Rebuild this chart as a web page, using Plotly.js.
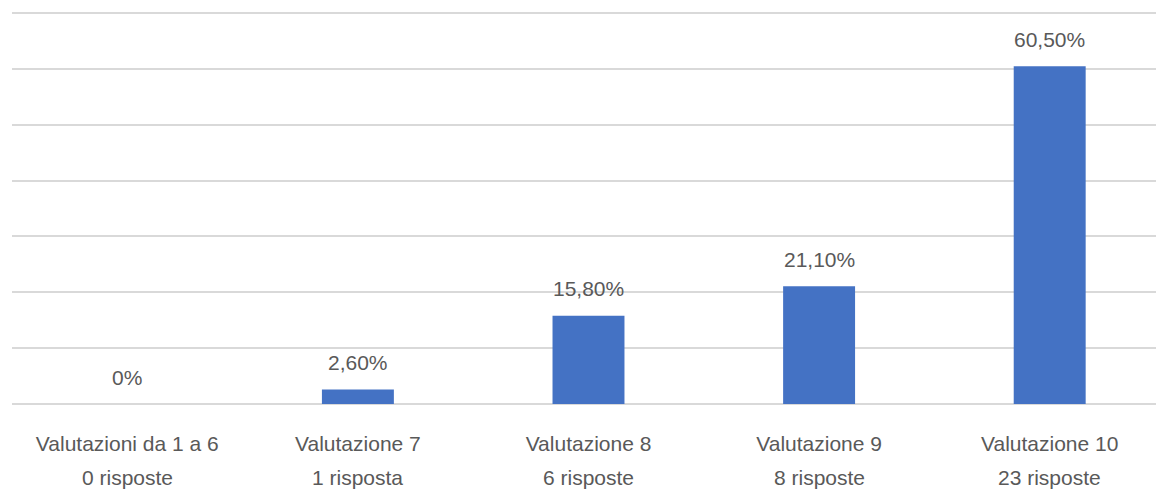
<!DOCTYPE html>
<html>
<head>
<meta charset="utf-8">
<script src="https://cdn.plot.ly/plotly-3.0.1.min.js"></script>
<style>html,body{margin:0;padding:0;background:#fff;}#chart{width:1156px;height:495px;}</style>
</head>
<body>
<div id="chart"></div>
<script>
const categories = ["Valutazioni da 1 a 6", "Valutazione 7", "Valutazione 8", "Valutazione 9", "Valutazione 10"];
const responses = ["0 risposte", "1 risposta", "6 risposte", "8 risposte", "23 risposte"];
const percentages = [0, 2.6, 15.8, 21.1, 60.5];
const valueLabels = ["0%", "2,60%", "15,80%", "21,10%", "60,50%"];

const FONT = '"Liberation Sans", Arial, sans-serif';
const TEXT = '#595959';
const FS = 21;

const trace = {
  type: 'bar',
  x: categories,
  y: percentages,
  width: 0.312,
  marker: {color: '#4472C4'},
  hoverinfo: 'skip'
};

const valueAnnotations = categories.map((c, i) => ({
  x: c, y: percentages[i], xref: 'x', yref: 'y',
  text: valueLabels[i], showarrow: false,
  yanchor: 'middle', xanchor: 'center', yshift: 27,
  font: {family: FONT, size: FS, color: TEXT}
}));

const responseAnnotations = categories.map((c, i) => ({
  x: c, y: 0, xref: 'x', yref: 'y',
  text: responses[i], showarrow: false,
  yanchor: 'middle', xanchor: 'center', yshift: -73,
  font: {family: FONT, size: FS, color: TEXT}
}));

const layout = {
  width: 1156, height: 495,
  margin: {l: 12, r: 0, t: 12, b: 91},
  paper_bgcolor: '#ffffff', plot_bgcolor: '#ffffff',
  showlegend: false,
  xaxis: {
    type: 'category',
    range: [-0.5, 4.461],
    tickvals: categories,
    ticktext: categories,
    showgrid: false, zeroline: false, showline: false,
    ticks: '',
    ticklabelstandoff: 25,
    tickfont: {family: FONT, size: FS, color: TEXT}
  },
  yaxis: {
    range: [0, 70.2], dtick: 10, tick0: 0,
    showticklabels: false,
    showgrid: true, gridcolor: '#d9d9d9', gridwidth: 2,
    zeroline: true, zerolinecolor: '#d9d9d9', zerolinewidth: 2,
    showline: false, ticks: ''
  },
  annotations: valueAnnotations.concat(responseAnnotations)
};

Plotly.newPlot('chart', [trace], layout, {displayModeBar: false, staticPlot: true});
</script>
</body>
</html>
